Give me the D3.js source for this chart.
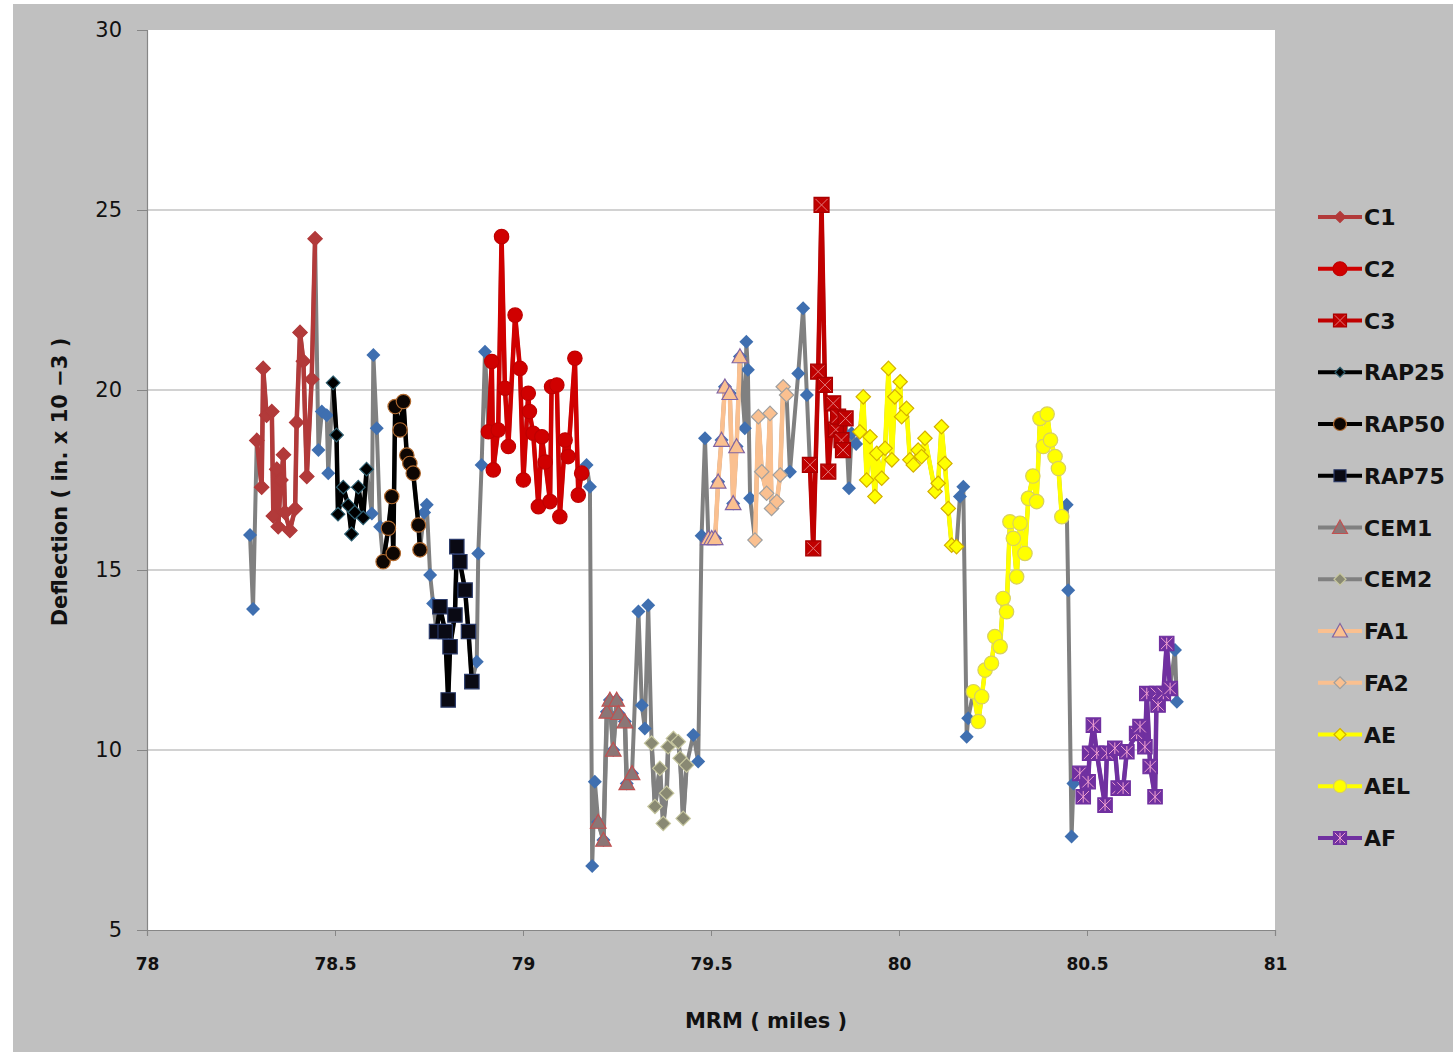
<!DOCTYPE html>
<html>
<head>
<meta charset="utf-8">
<script src="https://cdn.jsdelivr.net/npm/d3@7/dist/d3.min.js"></script>
<style>
  body { margin: 0; background: #ffffff; }
  svg { display: block; }
</style>
</head>
<body>
<svg id="chart" width="1455" height="1052"></svg>
<script>
// Falling-weight deflection survey: [MRM (miles), deflection (in. x 10^-3)]
const c1 = [
  [78.292, 18.6], [78.305, 17.3], [78.309, 20.6], [78.318, 19.3], [78.332, 19.4],
  [78.336, 16.5], [78.345, 17.8], [78.349, 16.2], [78.356, 17.5], [78.363, 18.2],
  [78.367, 16.6], [78.380, 16.1], [78.394, 16.7], [78.398, 19.1], [78.407, 21.6],
  [78.416, 20.8], [78.425, 17.6], [78.438, 20.3], [78.447, 24.2]
];
const c2 = [
  [78.908, 18.84], [78.917, 20.79], [78.921, 17.78], [78.934, 18.89], [78.943, 24.26],
  [78.952, 20.05], [78.961, 18.43], [78.979, 22.08], [78.992, 20.6], [79.001, 17.5],
  [79.014, 19.91], [79.017, 19.4], [79.027, 18.8], [79.041, 16.76], [79.050, 18.7],
  [79.059, 18.0], [79.072, 16.9], [79.076, 20.09], [79.090, 20.14], [79.098, 16.48],
  [79.112, 18.61], [79.120, 18.15], [79.138, 20.88], [79.147, 17.08], [79.156, 17.69]
];
const c3 = [
  [79.763, 17.92], [79.772, 15.6], [79.785, 20.51], [79.794, 25.14], [79.803, 20.14],
  [79.812, 17.73], [79.825, 19.63], [79.832, 18.9], [79.838, 19.26], [79.847, 18.61],
  [79.851, 18.33], [79.858, 19.21]
];
const rap25 = [
  [78.495, 20.2], [78.504, 18.75], [78.508, 16.55], [78.522, 17.3], [78.535, 16.8],
  [78.544, 16.0], [78.553, 16.6], [78.562, 17.3], [78.575, 16.45], [78.584, 17.8]
];
const rap50 = [
  [78.628, 15.23], [78.642, 16.16], [78.651, 17.04], [78.655, 15.46], [78.660, 19.54],
  [78.673, 18.89], [78.682, 19.68], [78.691, 18.19], [78.699, 17.96], [78.708, 17.69],
  [78.722, 16.25], [78.726, 15.56]
];
const rap75 = [
  [78.770, 13.29], [78.779, 13.98], [78.793, 13.29], [78.801, 11.39], [78.806, 12.87],
  [78.819, 13.75], [78.824, 15.65], [78.832, 15.23], [78.846, 14.44], [78.855, 13.29],
  [78.864, 11.9]
];
const cem1 = [
  [79.200, 8.0], [79.214, 7.5], [79.223, 11.06], [79.231, 11.39], [79.240, 10.0],
  [79.249, 11.39], [79.254, 11.02], [79.271, 10.79], [79.276, 9.07], [79.290, 9.35]
];
const cem2 = [
  [79.342, 10.19], [79.351, 8.43], [79.364, 9.49], [79.373, 7.96], [79.382, 8.8],
  [79.386, 10.09], [79.400, 10.32], [79.413, 10.23], [79.418, 9.77], [79.426, 8.1],
  [79.435, 9.58]
];
const fa1 = [
  [79.493, 15.88], [79.502, 15.88], [79.511, 15.88], [79.519, 17.45], [79.528, 18.61],
  [79.537, 20.09], [79.550, 19.91], [79.559, 16.85], [79.568, 18.43], [79.577, 20.93]
];
const fa2 = [
  [79.617, 15.83], [79.626, 19.26], [79.635, 17.73], [79.648, 17.13], [79.657, 19.35],
  [79.661, 16.71], [79.675, 16.9], [79.684, 17.64], [79.692, 20.09], [79.701, 19.86]
];
const ae = [
  [79.896, 18.84], [79.905, 19.81], [79.914, 17.5], [79.923, 18.7], [79.936, 17.04],
  [79.941, 18.24], [79.954, 17.55], [79.963, 18.38], [79.972, 20.6], [79.981, 18.06],
  [79.989, 19.81], [80.003, 20.23], [80.007, 19.26], [80.020, 19.49], [80.029, 18.06],
  [80.038, 17.92], [80.051, 18.33], [80.060, 18.15], [80.069, 18.66], [80.096, 17.18],
  [80.104, 17.41], [80.113, 18.98], [80.122, 17.96], [80.131, 16.71], [80.140, 15.69],
  [80.153, 15.65]
];
const ael = [
  [80.198, 11.62], [80.211, 10.79], [80.220, 11.48], [80.229, 12.22], [80.246, 12.41],
  [80.255, 13.15], [80.269, 12.87], [80.277, 14.21], [80.286, 13.84], [80.295, 16.34],
  [80.304, 15.88], [80.313, 14.81], [80.322, 16.3], [80.335, 15.46], [80.344, 16.99],
  [80.356, 17.61], [80.366, 16.9], [80.375, 19.21], [80.384, 18.43], [80.394, 19.33],
  [80.403, 18.61], [80.415, 18.15], [80.424, 17.82], [80.433, 16.48]
];
const af = [
  [80.481, 9.35], [80.490, 8.7], [80.503, 9.12], [80.507, 9.91], [80.517, 10.69],
  [80.526, 9.91], [80.548, 8.47], [80.553, 9.91], [80.574, 10.05], [80.583, 8.94],
  [80.596, 8.94], [80.606, 9.95], [80.632, 10.46], [80.641, 10.65], [80.654, 10.09],
  [80.659, 11.57], [80.668, 9.54], [80.681, 8.7], [80.685, 11.57], [80.689, 11.25],
  [80.703, 11.57], [80.712, 12.96], [80.721, 11.71]
];
// Readings taken between the test sections (only on the continuous profile)
const transitions = [
  [78.274, 15.97], [78.282, 13.92],
  [78.456, 18.33], [78.465, 19.4], [78.478, 19.3], [78.482, 17.69],
  [78.598, 16.57], [78.602, 20.97], [78.611, 18.94], [78.620, 16.2],
  [78.737, 16.6], [78.744, 16.81], [78.753, 14.86], [78.761, 14.07],
  [78.877, 12.45], [78.881, 15.46], [78.890, 17.92], [78.899, 21.06],
  [79.169, 17.92], [79.178, 17.31], [79.184, 6.78], [79.191, 9.12],
  [79.307, 13.85], [79.316, 11.24], [79.324, 10.6], [79.333, 14.02],
  [79.453, 10.42], [79.466, 9.68], [79.475, 15.95], [79.484, 18.66],
  [79.590, 18.94], [79.594, 21.34], [79.598, 20.56], [79.604, 16.99],
  [79.710, 17.73], [79.732, 20.46], [79.745, 22.27], [79.755, 19.86],
  [79.867, 17.27], [79.874, 18.8], [79.886, 18.5],
  [80.162, 17.04], [80.171, 17.31], [80.180, 10.37], [80.184, 10.88],
  [80.446, 16.81], [80.450, 14.44], [80.459, 7.6], [80.464, 9.07],
  [80.734, 12.78], [80.739, 11.34]
];

const seriesNames = ["C1", "C2", "C3", "RAP25", "RAP50", "RAP75", "CEM1", "CEM2", "FA1", "FA2", "AE", "AEL", "AF"];
const seriesValues = [c1, c2, c3, rap25, rap50, rap75, cem1, cem2, fa1, fa2, ae, ael, af];
const xTicks = [78, 78.5, 79, 79.5, 80, 80.5, 81];
const yTicks = [5, 10, 15, 20, 25, 30];
const xTitle = "MRM ( miles )";
const yTitle = "Deflection ( in. x 10 \u22123 )";

// Appearance of each section's line and markers
const looks = {
  C1:    { line: "#B23A3A", shape: "diamond",  r: 7.2, fill: "#B23A3A", stroke: "#B23A3A", lr: 5.5 },
  C2:    { line: "#D00000", shape: "circle",   r: 7.2, fill: "#D00000", stroke: "#C00000", lr: 7 },
  C3:    { line: "#C00000", shape: "square",   r: 7.5, fill: "#C00000", stroke: "#A80000", mark: "x", markColor: "#E07878", lr: 6.5 },
  RAP25: { line: "#000000", shape: "diamond",  r: 6.8, fill: "#000000", stroke: "#2F5F6F", lr: 5 },
  RAP50: { line: "#000000", shape: "circle",   r: 7.2, fill: "#0D0603", stroke: "#B06A30", lr: 6.5 },
  RAP75: { line: "#000000", shape: "square",   r: 7.2, fill: "#0A0A14", stroke: "#2A3A6A", lr: 6 },
  CEM1:  { line: "#808080", shape: "triangle", r: 7.8, fill: "#8B7676", stroke: "#C05050", lr: 7.5 },
  CEM2:  { line: "#808080", shape: "diamond",  r: 7.2, fill: "#898973", stroke: "#C8C8A0", lr: 6 },
  FA1:   { line: "#FAC090", shape: "triangle", r: 7.8, fill: "#FAC090", stroke: "#8064A2", lr: 7.5 },
  FA2:   { line: "#FAC090", shape: "diamond",  r: 7.2, fill: "#FAC090", stroke: "#A0A0A0", lr: 6 },
  AE:    { line: "#FFFF00", shape: "diamond",  r: 7.2, fill: "#FFFF00", stroke: "#D4B000", lr: 6 },
  AEL:   { line: "#FFFF00", shape: "circle",   r: 7.2, fill: "#FFFF00", stroke: "#D8D060", lr: 6.5 },
  AF:    { line: "#7030A0", shape: "square",   r: 7.2, fill: "#7030A0", stroke: "#7030A0", mark: "star", markColor: "#F0A0D0", lr: 6.5 }
};
const profileLook = { line: "#808080", shape: "diamond", r: 7, fill: "#3F6FB0", stroke: "none" };

const svg = d3.select("#chart");
const W = 1455, H = 1052;
const plot = { left: 147, right: 1275, top: 30, bottom: 930 };

const x = d3.scaleLinear().domain([78, 81]).range([plot.left, plot.right]);
const y = d3.scaleLinear().domain([5, 30]).range([plot.bottom, plot.top]);

// Chart and plot backgrounds
svg.append("rect").attr("x", 13).attr("y", 4).attr("width", W - 15).attr("height", H - 4).attr("fill", "#C0C0C0");
svg.append("rect").attr("x", plot.left).attr("y", plot.top)
  .attr("width", plot.right - plot.left).attr("height", plot.bottom - plot.top).attr("fill", "#ffffff");

// Horizontal gridlines
svg.append("g").selectAll("line").data(yTicks.filter(t => t > 5 && t < 30)).join("line")
  .attr("x1", plot.left).attr("x2", plot.right)
  .attr("y1", d => y(d)).attr("y2", d => y(d))
  .attr("stroke", "#A6A6A6").attr("stroke-width", 1.2);

// Axes
const yAxis = d3.axisLeft(y).tickValues(yTicks).tickSize(10).tickPadding(15).tickFormat(d3.format("d"));
const xAxis = d3.axisBottom(x).tickValues(xTicks).tickSize(6).tickPadding(22).tickFormat(d => String(d));

const gy = svg.append("g").attr("transform", `translate(${plot.left},0)`).call(yAxis);
gy.select(".domain").attr("stroke", "#868686").attr("stroke-width", 1.2);
gy.selectAll(".tick line").attr("stroke", "#868686");
gy.selectAll(".tick text").attr("font-family", "DejaVu Sans").attr("font-size", 21).attr("fill", "#111");

const gx = svg.append("g").attr("transform", `translate(0,${plot.bottom})`).call(xAxis);
gx.select(".domain").attr("stroke", "#868686").attr("stroke-width", 1.2);
gx.selectAll(".tick line").attr("stroke", "#868686");
gx.selectAll(".tick text").attr("font-family", "DejaVu Sans").attr("font-weight", "bold")
  .attr("font-size", 17).attr("fill", "#111");

// Axis titles
svg.append("text").attr("x", 766).attr("y", 1028).attr("text-anchor", "middle")
  .attr("font-family", "DejaVu Sans").attr("font-weight", "bold").attr("font-size", 21)
  .attr("fill", "#111").text(xTitle);
svg.append("text").attr("transform", `translate(67,${(plot.top + plot.bottom) / 2 + 2}) rotate(-90)`)
  .attr("text-anchor", "middle")
  .attr("font-family", "DejaVu Sans").attr("font-weight", "bold").attr("font-size", 21)
  .attr("fill", "#111").text(yTitle);

// Marker outlines
function shapePath(shape, r) {
  const p = d3.path();
  if (shape === "diamond") {
    p.moveTo(0, -r); p.lineTo(r, 0); p.lineTo(0, r); p.lineTo(-r, 0); p.closePath();
  } else if (shape === "square") {
    p.rect(-r, -r, 2 * r, 2 * r);
  } else if (shape === "circle") {
    p.moveTo(r, 0); p.arc(0, 0, r, 0, 2 * Math.PI);
  } else if (shape === "triangle") {
    p.moveTo(0, -r); p.lineTo(r, r * 0.8); p.lineTo(-r, r * 0.8); p.closePath();
  }
  return p.toString();
}
function innerMark(kind, r) {
  const k = r * 0.8;
  const p = d3.path();
  p.moveTo(-k, -k); p.lineTo(k, k); p.moveTo(k, -k); p.lineTo(-k, k);
  if (kind === "star") { p.moveTo(0, -k); p.lineTo(0, k); }
  return p.toString();
}
function drawMarkers(g, data, look, r, px, py) {
  const m = g.selectAll(null).data(data).join("g")
    .attr("transform", d => `translate(${px(d)},${py(d)})`);
  m.append("path").attr("d", shapePath(look.shape, r))
    .attr("fill", look.fill).attr("stroke", look.stroke).attr("stroke-width", look.stroke === "none" ? 0 : 1.2);
  if (look.mark) {
    m.append("path").attr("d", innerMark(look.mark, r))
      .attr("stroke", look.markColor).attr("stroke-width", 1).attr("fill", "none");
  }
}

const line = d3.line().x(d => x(d[0])).y(d => y(d[1]));

// Continuous profile through every reading
const profile = seriesValues.flat().concat(transitions).sort((a, b) => a[0] - b[0]);
const gProfile = svg.append("g");
gProfile.append("path").datum(profile).attr("d", line)
  .attr("fill", "none").attr("stroke", profileLook.line).attr("stroke-width", 4)
  .attr("stroke-linejoin", "round");
drawMarkers(gProfile, profile, profileLook, profileLook.r, d => x(d[0]), d => y(d[1]));

// Test sections on top
seriesNames.forEach((name, i) => {
  const look = looks[name];
  const g = svg.append("g");
  g.append("path").datum(seriesValues[i]).attr("d", line)
    .attr("fill", "none").attr("stroke", look.line).attr("stroke-width", 4.5)
    .attr("stroke-linejoin", "round");
  drawMarkers(g, seriesValues[i], look, look.r, d => x(d[0]), d => y(d[1]));
});

// Legend
const legendTop = 217, legendStep = 51.75;
const lg = svg.append("g");
seriesNames.forEach((name, i) => {
  const look = looks[name];
  const cy = legendTop + i * legendStep;
  const row = lg.append("g");
  row.append("line").attr("x1", 1318).attr("x2", 1362).attr("y1", cy).attr("y2", cy)
    .attr("stroke", look.line).attr("stroke-width", 4);
  drawMarkers(row, [0], look, look.lr, () => 1340, () => cy);
  row.append("text").attr("x", 1364).attr("y", cy + 8)
    .attr("font-family", "DejaVu Sans").attr("font-weight", "bold").attr("font-size", 22)
    .attr("fill", "#111").text(name);
});
</script>
</body>
</html>
